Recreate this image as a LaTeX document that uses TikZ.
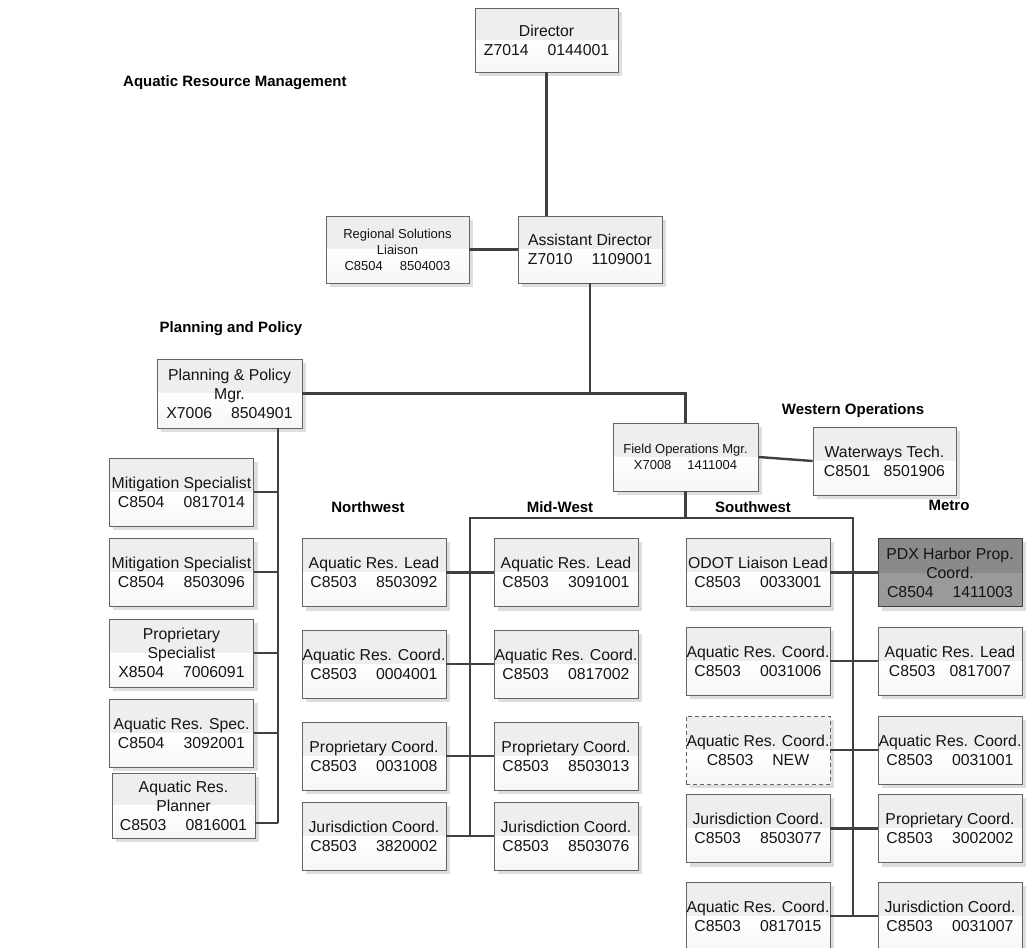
\documentclass[tikz,border=0pt]{standalone}
\usepackage{fontspec}
\setmainfont{Liberation Sans}
\usetikzlibrary{backgrounds}

\definecolor{linec}{RGB}{64,64,64}
\definecolor{boxedge}{RGB}{100,100,100}
\definecolor{boxtop}{RGB}{238,238,238}
\definecolor{boxbot}{RGB}{246,246,246}
\definecolor{shadowc}{RGB}{222,222,222}
\definecolor{darktop}{RGB}{138,138,138}
\definecolor{darkbot}{RGB}{154,154,154}
\definecolor{inkc}{RGB}{20,20,20}

% position number: class code, a wide gap, then the position id
\newcommand{\idpair}[3][19pt]{#2\hspace{#1}#3}

\tikzset{
  boxbase/.style={draw=boxedge, line width=0.9pt, text=inkc, align=center,
    inner sep=0pt, minimum width=144pt, minimum height=68pt,
    font=\fontsize{15.8}{19}\selectfont},
  lightfill/.style={path picture={
      \fill[boxtop] (path picture bounding box.north west) rectangle (path picture bounding box.east);
      \shade[top color=white, bottom color=boxbot] (path picture bounding box.west) rectangle (path picture bounding box.south east);
    }},
  darkfill/.style={path picture={
      \fill[darktop] (path picture bounding box.north west) rectangle (path picture bounding box.east);
      \fill[darkbot] (path picture bounding box.west) rectangle (path picture bounding box.south east);
    }},
  orgbox/.style={boxbase, lightfill},
  smallbox/.style={orgbox, font=\fontsize{13}{16}\selectfont},
  darkbox/.style={boxbase, darkfill, draw=linec},
  vacantbox/.style={orgbox, dash pattern=on 4pt off 3pt},
  link/.style={draw=linec, line width=2.4pt},
  grouplabel/.style={font=\fontsize{15}{18}\selectfont\bfseries, text=black, inner sep=0pt},
}

\begin{document}
\begin{tikzpicture}[x=1pt, y=-1pt]
\useasboundingbox (0,0) rectangle (1026,948);

% ---- headings ----
\node[grouplabel, anchor=west] (title) at (123,83) {Aquatic Resource Management};
\node[grouplabel] (lblpp) at (231,329) {Planning and Policy};
\node[grouplabel] (lblwest) at (853,411) {Western Operations};
\node[grouplabel] (lblnw) at (368,507) {Northwest};
\node[grouplabel] (lblmw) at (560,507) {Mid-West};
\node[grouplabel] (lblsw) at (753,507) {Southwest};
\node[grouplabel] (lblmetro) at (949,505) {Metro};

% ---- management ----
\node[orgbox, minimum width=143pt, minimum height=64pt] (dir) at (546.5,40)
  {Director\\\idpair{Z7014}{0144001}};
\node[smallbox, minimum width=143pt, minimum height=67pt] (rsl) at (397.5,249.5)
  {Regional Solutions\\Liaison\\\idpair[17pt]{C8504}{8504003}};
\node[orgbox, minimum height=67pt] (ad) at (590,249.5)
  {Assistant Director\\\idpair{Z7010}{1109001}};
\node[orgbox, minimum width=145pt, minimum height=69pt] (pp) at (229.5,393.5)
  {Planning \& Policy\\Mgr.\\\idpair{X7006}{8504901}};
\node[smallbox, minimum width=145pt] (fo) at (685.5,457)
  {Field Operations Mgr.\\\idpair[16pt]{X7008}{1411004}};
\node[orgbox, minimum width=143pt] (ww) at (884.5,461)
  {Waterways Tech.\\\idpair[13pt]{C8501}{8501906}};

% ---- planning and policy staff ----
\begin{scope}[every node/.append style={minimum width=145pt, minimum height=64pt}]
\node[orgbox] (ls1) at (181.5,492) {Mitigation Specialist\\\idpair{C8504}{0817014}};
\node[orgbox] (ls2) at (181.5,572) {Mitigation Specialist\\\idpair{C8504}{8503096}};
\node[orgbox] (ls3) at (181.5,653) {Proprietary\\Specialist\\\idpair{X8504}{7006091}};
\node[orgbox] (ls4) at (181.5,733) {Aquatic Res. Spec.\\\idpair{C8504}{3092001}};
\node[orgbox, minimum width=143pt, minimum height=65pt] (ls5) at (183.5,805.5)
  {Aquatic Res.\\Planner\\\idpair{C8503}{0816001}};
\end{scope}

% ---- Northwest ----
\node[orgbox] (nw1) at (374,572.5) {Aquatic Res. Lead\\\idpair{C8503}{8503092}};
\node[orgbox] (nw2) at (374,664) {Aquatic Res. Coord.\\\idpair{C8503}{0004001}};
\node[orgbox] (nw3) at (374,756) {Proprietary Coord.\\\idpair{C8503}{0031008}};
\node[orgbox] (nw4) at (374,836) {Jurisdiction Coord.\\\idpair{C8503}{3820002}};

% ---- Mid-West ----
\node[orgbox] (mw1) at (566,572.5) {Aquatic Res. Lead\\\idpair{C8503}{3091001}};
\node[orgbox] (mw2) at (566,664) {Aquatic Res. Coord.\\\idpair{C8503}{0817002}};
\node[orgbox] (mw3) at (566,756) {Proprietary Coord.\\\idpair{C8503}{8503013}};
\node[orgbox] (mw4) at (566,836) {Jurisdiction Coord.\\\idpair{C8503}{8503076}};

% ---- Southwest ----
\node[orgbox] (sw1) at (758,572.5) {ODOT Liaison Lead\\\idpair{C8503}{0033001}};
\node[orgbox] (sw2) at (758,661) {Aquatic Res. Coord.\\\idpair{C8503}{0031006}};
\node[vacantbox] (sw3) at (758,750) {Aquatic Res. Coord.\\\idpair{C8503}{NEW}};
\node[orgbox] (sw4) at (758,828.5) {Jurisdiction Coord.\\\idpair{C8503}{8503077}};
\node[orgbox] (sw5) at (758,916) {Aquatic Res. Coord.\\\idpair{C8503}{0817015}};

% ---- Metro ----
\node[darkbox] (mt1) at (950,572.5) {PDX Harbor Prop.\\Coord.\\\idpair{C8504}{1411003}};
\node[orgbox] (mt2) at (950,661) {Aquatic Res. Lead\\\idpair[14pt]{C8503}{0817007}};
\node[orgbox] (mt3) at (950,750) {Aquatic Res. Coord.\\\idpair{C8503}{0031001}};
\node[orgbox] (mt4) at (950,828.5) {Proprietary Coord.\\\idpair{C8503}{3002002}};
\node[orgbox] (mt5) at (950,916) {Jurisdiction Coord.\\\idpair{C8503}{0031007}};

% ---- page and box shadows ----
\begin{scope}[on background layer]
  \fill[white] (0,0) rectangle (1026,948);
  \foreach \n in {dir,rsl,ad,pp,fo,ww,ls1,ls2,ls3,ls4,ls5,nw1,nw2,nw3,nw4,
                  mw1,mw2,mw3,mw4,sw1,sw2,sw3,sw4,sw5,mt1,mt2,mt3,mt4,mt5}
    \fill[shadowc] ([xshift=4pt,yshift=-4pt]\n.north west) rectangle ([xshift=4pt,yshift=-4pt]\n.south east);
\end{scope}

% ---- reporting lines ----
\coordinate (lsbus) at (278,428);
\coordinate (ls5tap) at ([yshift=-17.5pt]ls5.east);
\coordinate (mwbus) at (470,518);
\coordinate (swbus) at (853,518);

\draw[link] (dir.south) -- (dir.south |- ad.north);
\draw[link] (rsl.east) -- (ad.west);
\draw[link] (ad.south) -- (ad.south |- pp.east);
\draw[link] (pp.east) -- (pp.east -| fo.north) -- (fo.north);
\draw[link] (fo.east) -- (ww.west);

\draw[link] (lsbus) -- (lsbus |- ls5tap);
\foreach \n in {ls1,ls2,ls3,ls4}
  \draw[link] (\n.east) -- (\n.east -| lsbus);
\draw[link] (ls5tap) -- (ls5tap -| lsbus);

\draw[link] (fo.south) -- (fo.south |- mwbus);
\draw[link] (mwbus |- nw4.east) -- (mwbus) -- (swbus) -- (swbus |- sw5.east);
\foreach \a/\b in {nw1/mw1,nw2/mw2,nw3/mw3,nw4/mw4,sw1/mt1,sw2/mt2,sw3/mt3,sw4/mt4,sw5/mt5}
  \draw[link] (\a.east) -- (\b.west);
\end{tikzpicture}
\end{document}
